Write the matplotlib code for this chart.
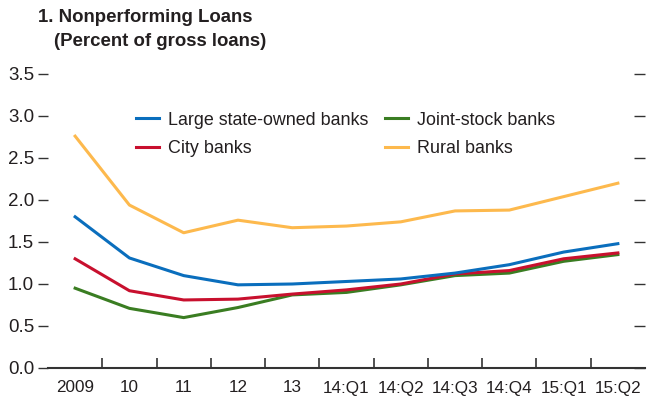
import numpy as np
import matplotlib.pyplot as plt
from matplotlib.ticker import FixedLocator

plt.rcParams['font.family'] = ['Liberation Sans Narrow', 'Liberation Sans', 'DejaVu Sans']

# 資料
labels = ['2009', '10', '11', '12', '13', '14:Q1', '14:Q2', '14:Q3', '14:Q4', '15:Q1', '15:Q2']
large_state = [1.80, 1.31, 1.10, 0.99, 1.00, 1.03, 1.06, 1.13, 1.23, 1.38, 1.48]
joint_stock = [0.95, 0.71, 0.60, 0.72, 0.87, 0.90, 0.99, 1.10, 1.13, 1.27, 1.35]
city = [1.30, 0.92, 0.81, 0.82, 0.88, 0.93, 1.00, 1.12, 1.16, 1.30, 1.37]
rural = [2.76, 1.94, 1.61, 1.76, 1.67, 1.69, 1.74, 1.87, 1.88, 2.04, 2.20]

x = np.arange(len(labels))

fig = plt.figure(figsize=(6.51, 4.07), dpi=100)
ax = fig.add_axes([48/651, 39/407, 597/651, 294/407])

lw = 2.2
ax.plot(x, rural, color='#fdb94d', lw=lw, label='Rural banks')
ax.plot(x, joint_stock, color='#3a7d22', lw=lw, label='Joint-stock banks')
ax.plot(x, city, color='#c8102e', lw=lw, label='City banks')
ax.plot(x, large_state, color='#0a6ebd', lw=lw, label='Large state-owned banks')

ax.set_xlim(-0.5, 10.5)
ax.set_ylim(0, 3.5)

# 軸線
for s in ['top', 'left', 'right']:
    ax.spines[s].set_visible(False)
ax.spines['bottom'].set_color('#333333')
ax.spines['bottom'].set_linewidth(1.5)

yt = np.arange(0, 3.51, 0.5)
ax.set_yticks(yt)
ax.set_yticklabels(['%.1f' % v for v in yt])
ax.tick_params(axis='y', left=True, right=False, direction='out',
               length=7, width=1, color='#333333', labelsize=13.5, labelcolor='#231f20', pad=3)
# 右邊刻度朝內
ax2 = ax.twinx()
ax2.set_ylim(0, 3.5)
ax2.set_yticks(yt)
ax2.set_yticklabels([])
ax2.tick_params(axis='y', direction='in', length=8, width=1, color='#333333')
for s in ['top', 'left', 'right', 'bottom']:
    ax2.spines[s].set_visible(False)

ax.set_xticks(x)
ax.set_xticklabels(labels)
ax.xaxis.set_minor_locator(FixedLocator(np.arange(0.5, 10, 1)))
ax.tick_params(axis='x', which='major', length=0, labelsize=12.3, labelcolor='#231f20', pad=9)
ax.tick_params(axis='x', which='minor', direction='in', length=7, width=1.2, color='#333333')

h, l = ax.get_legend_handles_labels()
order = [3, 2, 1, 0]
ax.legend([h[i] for i in order], [l[i] for i in order], ncol=2, frameon=False,
          fontsize=12.9, handlelength=1.3, handletextpad=0.5, columnspacing=0.9,
          labelspacing=0.65, loc='upper left', bbox_to_anchor=(0.12, 0.927),
          labelcolor='#231f20')

fig.text(38/651, 1 - 17/407, '1. Nonperforming Loans', fontsize=13.4, fontweight='bold',
         color='#231f20', va='center')
fig.text(54/651, 1 - 41/407, '(Percent of gross loans)', fontsize=13.4, fontweight='bold',
         color='#231f20', va='center')

fig.savefig('out.png', dpi=100)
